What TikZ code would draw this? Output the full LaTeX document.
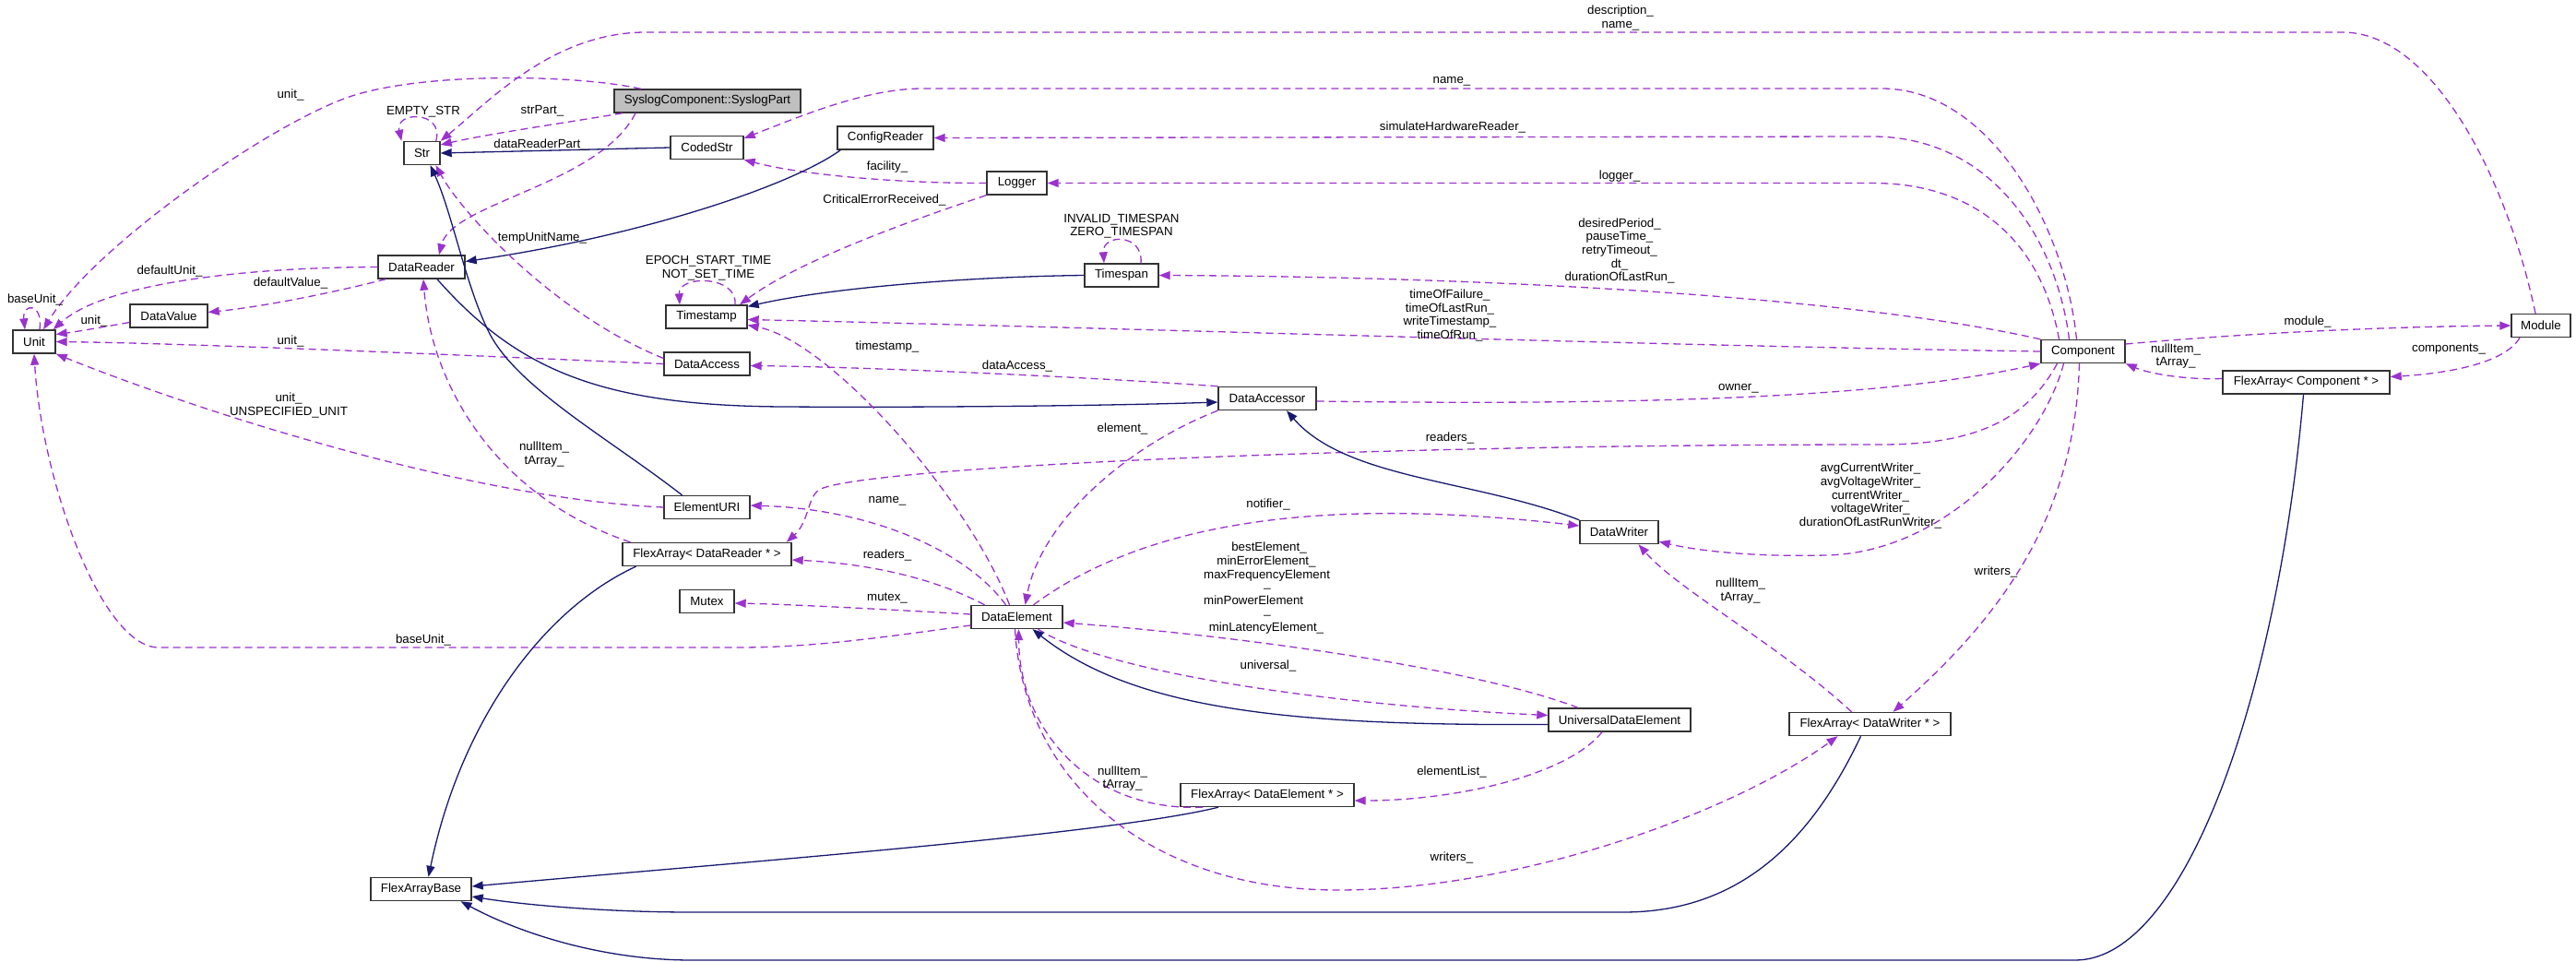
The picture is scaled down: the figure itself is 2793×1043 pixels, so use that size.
\documentclass[tikz,border=0pt]{standalone}
\usepackage{fontspec}
\setmainfont{Liberation Sans}
\usetikzlibrary{arrows.meta}
\definecolor{dpurple}{HTML}{9A32CD}
\definecolor{dnavy}{HTML}{191970}
\definecolor{nodegray}{HTML}{BFBFBF}
\begin{document}
\begin{tikzpicture}[x=1pt, y=-1pt, font=\fontsize{13.3}{14.6}\selectfont,
  cls/.style={draw=black!80, line width=1.4pt, minimum height=25pt, inner sep=0pt},
  dep/.style={dpurple, dash pattern=on 8pt off 5pt, line width=1.3pt, -{Triangle[length=12pt,width=9pt]}},
  inh/.style={dnavy, line width=1.3pt, -{Triangle[length=12pt,width=9pt]}},
  lbl/.style={inner sep=0pt, align=center}]
\useasboundingbox (0,0) rectangle (2793,1043);
% ---------- classes ----------
\node[cls, fill=nodegray, minimum width=202pt] (sys) at (767,109.5) {SyslogComponent::SyslogPart};
\node[cls, minimum width=39pt] (str) at (457.5,166) {Str};
\node[cls, minimum width=79pt] (coded) at (766.5,160) {CodedStr};
\node[cls, minimum width=104pt] (config) at (960,149.5) {ConfigReader};
\node[cls, minimum width=65pt] (logger) at (1102.5,198.5) {Logger};
\node[cls, minimum width=94pt] (dreader) at (457,289.5) {DataReader};
\node[cls, minimum width=88pt] (tstamp) at (766,343.5) {Timestamp};
\node[cls, minimum width=80pt] (tspan) at (1216,298.5) {Timespan};
\node[cls, minimum width=46pt] (unit) at (37,370.5) {Unit};
\node[cls, minimum width=84pt] (dvalue) at (183,342.5) {DataValue};
\node[cls, minimum width=93pt] (daccess) at (766.5,394.5) {DataAccess};
\node[cls, minimum width=106pt] (daccessor) at (1374,432) {DataAccessor};
\node[cls, minimum width=91pt] (comp) at (2258.5,381) {Component};
\node[cls, minimum width=64pt] (module) at (2755,353) {Module};
\node[cls, minimum width=181pt] (facomp) at (2500.5,414.5) {FlexArray< Component * >};
\node[cls, minimum width=93pt] (euri) at (766.5,550) {ElementURI};
\node[cls, minimum width=183pt] (fareader) at (766.5,601) {FlexArray< DataReader * >};
\node[cls, minimum width=59pt] (mutex) at (766.5,652) {Mutex};
\node[cls, minimum width=99pt] (delem) at (1102.5,669) {DataElement};
\node[cls, minimum width=85pt] (dwriter) at (1755.5,577) {DataWriter};
\node[cls, minimum width=154pt] (ude) at (1756,780.5) {UniversalDataElement};
\node[cls, minimum width=188pt] (faelem) at (1374,862) {FlexArray< DataElement * >};
\node[cls, minimum width=175pt] (fawriter) at (2027.5,785) {FlexArray< DataWriter * >};
\node[cls, minimum width=109pt] (fabase) at (456.5,964) {FlexArrayBase};
% ---------- connectors ----------
\draw[dep] ([xshift=-72pt]sys.north) .. controls (620,80) and (450,78) .. (373,107) .. controls (281,142) and (100,270) .. ([xshift=10pt]unit.north);
\draw[dep] ([xshift=-5pt]str.north east) .. controls (482,120) and (428,120) .. ([xshift=-2pt]str.north west);
\draw[dep] ([xshift=-6pt]module.north) .. controls (2720,200) and (2640,35) .. (2540,35) -- (700,35) .. controls (600,35) and (530,110) .. (str.north east);
\draw[dep] ([xshift=-92pt]sys.south) .. controls (620,132) and (530,145) .. ([yshift=9pt]str.east);
\draw[dep] ([xshift=-78pt]sys.south) .. controls (650,200) and (490,220) .. ([xshift=19pt]dreader.north);
\draw[inh] (coded.west) -- (str.east);
\draw[dep] ([xshift=-7pt]comp.north) .. controls (2240,250) and (2160,96) .. (2040,96) -- (1000,96) .. controls (940,96) and (870,125) .. ([yshift=10pt]coded.east);
\draw[dep] ([xshift=-15pt]comp.north) .. controls (2230,260) and (2160,148) .. (2030,148) -- (config.east);
\draw[dep] ([xshift=-26pt]comp.north) .. controls (2215,270) and (2150,198.5) .. (2030,198.5) -- (logger.east);
\draw[dep] (comp.north west) .. controls (2000,320) and (1600,300) .. (tspan.east);
\draw[dep] ([xshift=21pt]tspan.north) .. controls (1240,253) and (1195,253) .. ([xshift=-19pt]tspan.north);
\draw[inh] (tspan.west) .. controls (1050,300) and (900,312) .. ([yshift=-2pt]tstamp.north east);
\draw[dep] ([xshift=31pt]tstamp.north) .. controls (800,298) and (735,298) .. ([xshift=-29pt]tstamp.north);
\draw[dep] (logger.south west) .. controls (1000,235) and (870,280) .. ([xshift=36pt]tstamp.north);
\draw[dep] (logger.west) .. controls (980,199) and (870,190) .. (coded.south east);
\draw[inh] ([xshift=4pt]config.south west) .. controls (860,200) and (700,255) .. ([yshift=6pt]dreader.east);
\draw[dep] (dreader.west) .. controls (250,290) and (110,310) .. ([xshift=-3pt]unit.north east);
\draw[dep] ([xshift=9pt]dreader.south west) .. controls (350,320) and (280,333) .. ([yshift=4pt]dvalue.east);
\draw[dep] ([xshift=6pt]unit.north) .. controls (47,328) and (24,328) .. ([xshift=-10pt]unit.north);
\draw[dep] ([yshift=-7pt]dvalue.west) .. controls (110,355) and (80,360) .. ([yshift=8pt]unit.east);
\draw[dep] (daccess.west) .. controls (500,385) and (200,372) .. (unit.east);
\draw[dep] (euri.west) .. controls (500,540) and (200,440) .. (unit.south east);
\draw[dep] ([yshift=6pt]daccess.west) .. controls (600,340) and (500,230) .. ([xshift=15pt]str.south);
\draw[inh] ([xshift=-27pt]euri.north) .. controls (660,475) and (560,420) .. (530,360) .. controls (505,310) and (490,230) .. ([xshift=9pt]str.south);
\draw[inh] ([xshift=17pt]dreader.south) .. controls (560,400) and (650,440) .. (850,441) .. controls (1000,442) and (1200,440) .. ([yshift=-4pt]daccessor.west);
\draw[dep] (daccessor.north west) .. controls (1200,410) and (950,398) .. ([yshift=-2pt]daccess.east);
\draw[dep] ([xshift=-8pt]delem.north) .. controls (1050,540) and (900,370) .. ([yshift=-9pt]tstamp.east);
\draw[dep] (comp.west) .. controls (1800,375) and (1200,355) .. ([yshift=-3pt]tstamp.east);
\draw[dep] ([yshift=8pt]comp.east) .. controls (2450,360) and (2600,354) .. (module.west);
\draw[dep] ([xshift=-23pt]module.south) .. controls (2715,395) and (2650,405) .. ([yshift=6pt]facomp.east);
\draw[dep] ([yshift=4pt]facomp.west) .. controls (2370,412) and (2330,405) .. (comp.south east);
\draw[dep] ([yshift=-3pt]daccessor.east) .. controls (1800,440) and (2050,430) .. (comp.south west);
\draw[dep] ([xshift=-28pt]comp.south) .. controls (2200,450) and (2150,482) .. (2040,482) .. controls (1500,482) and (950,505) .. (890,530) .. controls (875,537) and (878,565) .. ([xshift=-6pt]fareader.north east);
\draw[dep] ([xshift=-21pt]comp.south) .. controls (2215,480) and (2110,600) .. (1979,602) .. controls (1900,604) and (1840,597) .. ([yshift=3pt]dwriter.south east);
\draw[dep] ([xshift=-4pt]comp.south) .. controls (2250,550) and (2180,660) .. ([xshift=25pt]fawriter.north);
\draw[dep] ([xshift=-20pt]fawriter.north) .. controls (1930,700) and (1820,640) .. ([xshift=21pt]dwriter.south);
\draw[inh] (dwriter.north west) .. controls (1600,520) and (1460,520) .. ([xshift=21pt]daccessor.south);
\draw[dep] (daccessor.south west) .. controls (1230,480) and (1130,560) .. ([xshift=9pt]delem.north);
\draw[dep] ([xshift=18pt]delem.north) .. controls (1250,560) and (1450,540) .. ([yshift=7pt]dwriter.west);
\draw[dep] ([xshift=-12pt]delem.north) .. controls (1050,600) and (950,552) .. ([yshift=2pt]euri.east);
\draw[dep] ([xshift=-35pt]delem.north) .. controls (1000,620) and (920,610) .. ([yshift=-6pt]fareader.east);
\draw[dep] ([yshift=3pt]delem.west) .. controls (950,660) and (850,655) .. ([yshift=-2pt]mutex.east);
\draw[dep] ([yshift=-9pt]delem.west) .. controls (950,692) and (880,702) .. (800,702) -- (172,702) .. controls (110,702) and (45,520) .. (unit.south);
\draw[dep] ([xshift=-83pt]fareader.north) .. controls (540,540) and (468,420) .. ([xshift=2pt]dreader.south);
\draw[inh] ([xshift=-77pt]fareader.south) .. controls (590,660) and (500,780) .. ([xshift=8pt]fabase.north);
\draw[inh] ([xshift=-53pt]faelem.south) .. controls (1200,905) and (800,935) .. ([yshift=3pt]fabase.east);
\draw[inh] ([xshift=-10pt]fawriter.south) .. controls (1960,920) and (1880,989) .. (1760,989) -- (750,989) .. controls (650,989) and (560,980) .. ([yshift=-8pt]fabase.east);
\draw[inh] ([xshift=-3pt]facomp.south) .. controls (2470,750) and (2370,1041) .. (2250,1041) -- (750,1041) .. controls (650,1041) and (560,1010) .. ([xshift=43pt]fabase.south);
\draw[dep] ([xshift=-45pt]ude.north) .. controls (1600,725) and (1350,690) .. ([yshift=-6pt]delem.east);
\draw[dep] ([xshift=23pt]delem.south) .. controls (1200,730) and (1450,765) .. ([yshift=5pt]ude.west);
\draw[inh] ([yshift=-5pt]ude.west) .. controls (1400,787) and (1230,770) .. ([xshift=17pt]delem.south);
\draw[dep] ([xshift=-19pt]ude.south) .. controls (1700,840) and (1580,868) .. ([yshift=-6pt]faelem.east);
\draw[dep] ([xshift=-70pt]faelem.south) .. controls (1180,880) and (1105,790) .. ([xshift=2pt]delem.south);
\draw[dep] ([xshift=-2pt]delem.south) .. controls (1110,850) and (1250,965) .. (1450,965) .. controls (1650,965) and (1880,880) .. ([xshift=-35pt]fawriter.south);
% ---------- labels ----------
\node[lbl] (lunitA) at (315,103) {unit\_};
\node[lbl] (lempty) at (459,121) {EMPTY\_STR};
\node[lbl] (ldesc) at (1757,19.5) {description\_\\name\_};
\node[lbl] (lstrpart) at (588,120) {strPart\_};
\node[lbl] (ldrpart) at (586,157) {dataReaderPart\_};
\node[lbl] (lnameA) at (1574,88) {name\_};
\node[lbl] (lsim) at (1575,138) {simulateHardwareReader\_};
\node[lbl] (llogger) at (1756,191) {logger\_};
\node[lbl] (lfacility) at (962,181) {facility\_};
\node[lbl] (lcrit) at (959,217) {CriticalErrorReceived\_};
\node[lbl] (ltspan) at (1216,245) {INVALID\_TIMESPAN\\ZERO\_TIMESPAN};
\node[lbl] (ltstamp) at (768,290.5) {EPOCH\_START\_TIME\\NOT\_SET\_TIME};
\node[lbl] (ldesired) at (1756,272) {desiredPeriod\_\\pauseTime\_\\retryTimeout\_\\dt\_\\durationOfLastRun\_};
\node[lbl] (ltemp) at (588,258) {tempUnitName\_};
\node[lbl] (ldefunit) at (184,294) {defaultUnit\_};
\node[lbl] (ldefval) at (315,307) {defaultValue\_};
\node[lbl] (lbaseA) at (38,325) {baseUnit\_};
\node[lbl] (lunitB) at (102,348) {unit\_};
\node[lbl] (lunitC) at (315,370) {unit\_};
\node[lbl] (ltimeof) at (1572,342) {timeOfFailure\_\\timeOfLastRun\_\\writeTimestamp\_\\timeOfRun\_};
\node[lbl] (ltimestamp) at (962,376) {timestamp\_};
\node[lbl] (ldataaccess) at (1103,397) {dataAccess\_};
\node[lbl] (lmodule) at (2502,349) {module\_};
\node[lbl] (lcomps) at (2655,379) {components\_};
\node[lbl] (lnullA) at (2359,386) {nullItem\_\\tArray\_};
\node[lbl] (lowner) at (1885,421) {owner\_};
\node[lbl] (lunitD) at (313,439.5) {unit\_\\UNSPECIFIED\_UNIT};
\node[lbl] (lnullB) at (590,492.5) {nullItem\_\\tArray\_};
\node[lbl] (lelement) at (1217,465) {element\_};
\node[lbl] (lreadersA) at (1572,475) {readers\_};
\node[lbl] (lavg) at (2028,537.5) {avgCurrentWriter\_\\avgVoltageWriter\_\\currentWriter\_\\voltageWriter\_\\durationOfLastRunWriter\_};
\node[lbl] (lwritersA) at (2164,620) {writers\_};
\node[lbl] (lnullC) at (1887,640.5) {nullItem\_\\tArray\_};
\node[lbl] (lnameB) at (962,543) {name\_};
\node[lbl] (lnotifier) at (1375,547) {notifier\_};
\node[lbl] (lreadersB) at (962,602) {readers\_};
\node[lbl] (lmutex) at (962,649) {mutex\_};
\node[lbl] (lbaseB) at (459,694) {baseUnit\_};
\node[lbl] (luniversal) at (1375,722) {universal\_};
\node[lbl] (lnullD) at (1217,844) {nullItem\_\\tArray\_};
\node[lbl] (lelist) at (1574,837) {elementList\_};
\node[lbl] (lwritersB) at (1574,930) {writers\_};
\node[lbl, anchor=base] (lbestA) at (1376,597.5) {bestElement\_};
\node[lbl, anchor=base] (lbestB) at (1373,612.5) {minErrorElement\_};
\node[lbl, anchor=base west] (lbestC) at (1305,627.5) {maxFrequencyElement};
\node[lbl, anchor=base] (lbestD) at (1374,636) {\_};
\node[lbl, anchor=base west] (lbestE) at (1305,655.5) {minPowerElement};
\node[lbl, anchor=base] (lbestF) at (1374,665) {\_};
\node[lbl, anchor=base] (lbestG) at (1373,684.5) {minLatencyElement\_};
\end{tikzpicture}
\end{document}
